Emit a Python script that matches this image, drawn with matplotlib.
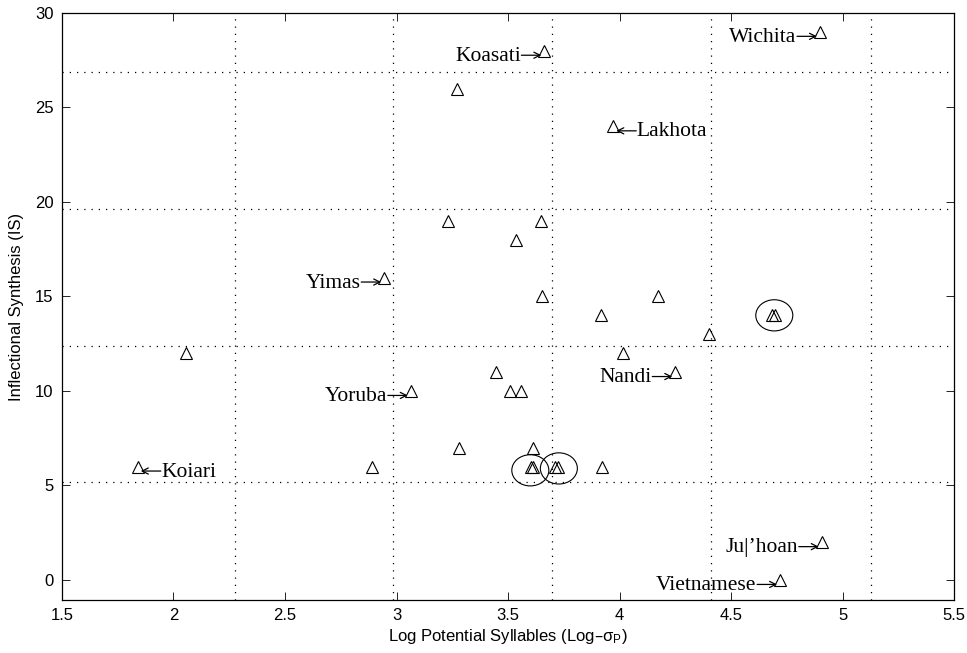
import matplotlib
matplotlib.use("Agg")
import matplotlib.pyplot as plt
from matplotlib.patches import Ellipse
from matplotlib.transforms import ScaledTranslation

plt.rcParams['font.family'] = ['Liberation Sans', 'DejaVu Sans']
plt.rcParams['mathtext.default'] = 'regular'

# data points (Log potential syllables, inflectional synthesis)
log_syll = [1.84, 2.055, 2.89, 2.945, 3.064, 3.232, 3.273, 3.282, 3.446, 3.509,
            3.536, 3.560, 3.604, 3.614, 3.613, 3.648, 3.651, 3.663, 3.712, 3.724,
            3.916, 3.923, 3.972, 4.017, 4.171, 4.25, 4.40, 4.685, 4.698, 4.72,
            4.899, 4.907]
infl_synth = [6, 12, 6, 16, 10, 19, 26, 7, 11, 10,
              18, 10, 6, 6, 7, 19, 15, 28, 6, 6,
              14, 6, 24, 12, 15, 11, 13, 14, 14, 0,
              29, 2]

# labelled languages: name, x, y, side of label
label_names = ['Koasati', 'Wichita', 'Lakhota', 'Yimas', 'Yoruba', 'Koiari',
               'Nandi', "Ju|\u2019hoan", 'Vietnamese']
label_x = [3.663, 4.899, 3.972, 2.945, 3.064, 1.84, 4.25, 4.907, 4.72]
label_y = [28, 29, 24, 16, 10, 6, 11, 2, 0]
label_side = ['left', 'left', 'right', 'left', 'left', 'right', 'left', 'left', 'left']

# circled (overlapping) points
circle_x = [4.694, 3.60, 3.728]
circle_y = [14, 5.8, 5.9]

# dotted reference lines (mean +/- k*sd)
vlines = [2.274, 2.986, 3.696, 4.41, 5.126]
hlines = [5.17, 12.40, 19.63, 26.86]

xticks = [1.5, 2, 2.5, 3, 3.5, 4, 4.5, 5, 5.5]
xticklabels = ['1.5', '2', '2.5', '3', '3.5', '4', '4.5', '5', '5.5']
yticks = [0, 5, 10, 15, 20, 25, 30]

fig = plt.figure(figsize=(9.67, 6.53), dpi=100)
ax = fig.add_axes([0.0641, 0.0812, 0.9225, 0.899])

dot = (0, (1, 4.8))
for v in vlines:
    ax.axvline(v, color='black', lw=0.9, linestyle=dot, zorder=1)
for h in hlines:
    ax.axhline(h, color='black', lw=0.9, linestyle=dot, zorder=1)

ax.plot(log_syll, infl_synth, linestyle='none', marker='^', markersize=9,
        markerfacecolor='none', markeredgecolor='black', markeredgewidth=0.8, zorder=3)

for cx, cy in zip(circle_x, circle_y):
    ax.add_patch(Ellipse((cx, cy), width=0.166, height=1.65, fill=False,
                         edgecolor='black', lw=0.8, zorder=3))


def shifted(dx_px, dy_px):
    return ax.transData + ScaledTranslation(dx_px / 100.0, dy_px / 100.0,
                                            fig.dpi_scale_trans)


serif = ['Liberation Serif', 'DejaVu Serif']
for name, x, y, side in zip(label_names, label_x, label_y, label_side):
    sgn = -1 if side == 'left' else 1
    # arrow: tip slightly off the marker centre, drawn at arrow-glyph height
    ax.annotate('', xy=(x, y), xycoords=shifted(sgn * 3, -4.5),
                xytext=(x, y), textcoords=shifted(sgn * 23, -4.5),
                arrowprops=dict(arrowstyle='->', lw=0.9, color='black',
                                mutation_scale=11, shrinkA=0, shrinkB=0))
    ax.annotate(name, xy=(x, y), xycoords=shifted(sgn * 23.5, -10),
                ha='right' if side == 'left' else 'left', va='baseline',
                fontsize=15.5, family=serif)

ax.set_xlim(1.5, 5.5)
ax.set_ylim(-1.06, 30)
ax.set_xticks(xticks)
ax.set_xticklabels(xticklabels)
ax.set_yticks(yticks)
ax.tick_params(direction='in', length=6, width=0.6, top=True, right=True,
               labelsize=12, pad=6)
for s in ax.spines.values():
    s.set_linewidth(0.9)

ax.set_xlabel('Log Potential Syllables (Log\u2013\u03c3$_{P}$)', fontsize=12, labelpad=3)
ax.set_ylabel('Inflectional Synthesis (IS)', fontsize=12, labelpad=8)

fig.savefig('out.png', dpi=100)
